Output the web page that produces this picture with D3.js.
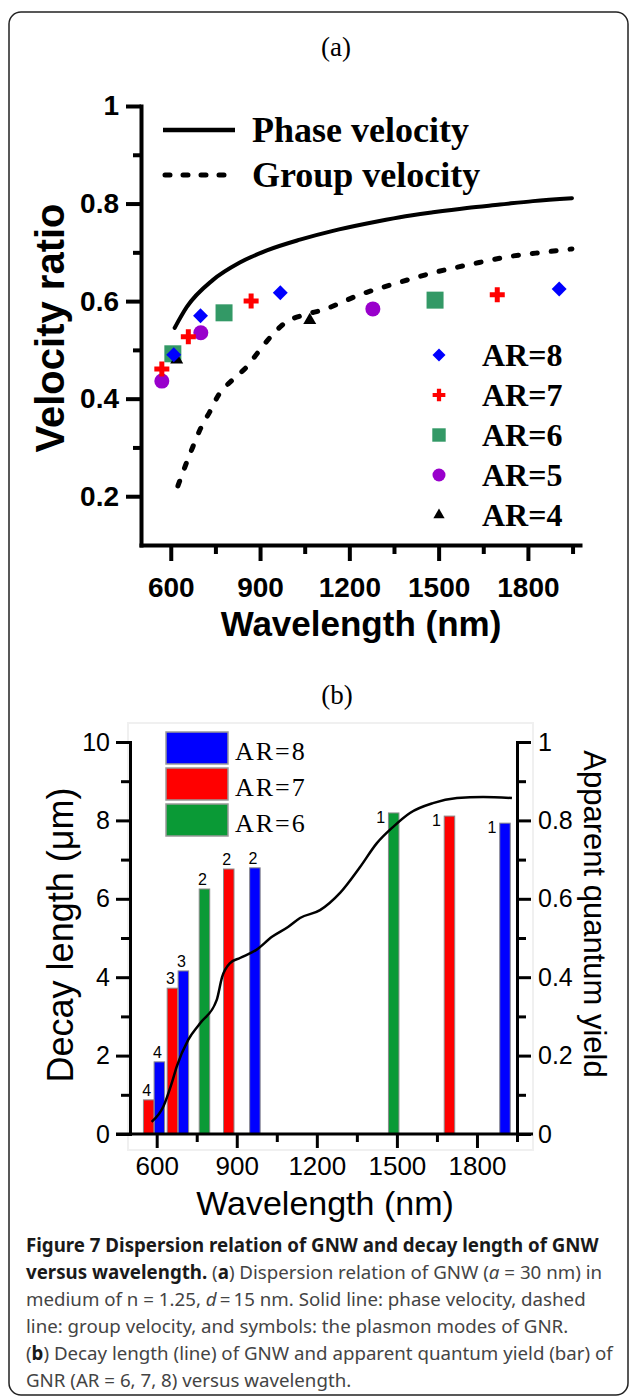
<!DOCTYPE html>
<html>
<head>
<meta charset="utf-8">
<script src="https://cdn.jsdelivr.net/npm/d3@7"></script>
<style>
  body { margin: 0; background: #fff; }
  svg { display: block; }
</style>
</head>
<body>
<div id="fig"></div>
<script>
// ---- panel (a): dispersion of GNW, plasmon modes of GNR ----
var phaseWl = [613, 654, 741, 832, 923, 1034, 1145, 1259, 1370, 1481, 1595, 1706, 1817, 1948];
var phaseV  = [0.545, 0.588, 0.643, 0.679, 0.704, 0.726, 0.744, 0.759, 0.772, 0.782, 0.791, 0.798, 0.805, 0.811];

var groupWl = [624, 650, 674, 701, 731, 761, 808, 855, 892, 933, 983, 1050, 1111, 1235, 1360, 1481, 1612, 1733, 1864, 1948];
var groupV  = [0.221, 0.264, 0.301, 0.340, 0.373, 0.408, 0.439, 0.465, 0.494, 0.525, 0.555, 0.572, 0.582, 0.613, 0.637, 0.658, 0.676, 0.691, 0.701, 0.707];

// plasmon modes per aspect ratio (wavelength nm, velocity ratio, quantum yield, mode number)
var ar8Wl = [610, 700, 968, 1905];
var ar8V  = [0.490, 0.570, 0.617, 0.625];
var ar8Qy = [0.184, 0.416, 0.679, 0.793];
var ar8Mode = [4, 3, 2, 1];

var ar7Wl = [570, 659, 870, 1697];
var ar7V  = [0.461, 0.527, 0.600, 0.613];
var ar7Qy = [0.087, 0.372, 0.676, 0.811];
var ar7Mode = [4, 3, 2, 1];

var ar6Wl = [607, 779, 1488];
var ar6V  = [0.492, 0.576, 0.602];
var ar6Qy = [null, 0.625, 0.819];
var ar6Mode = [3, 2, 1];

var ar5Wl = [570, 701, 1279];
var ar5V  = [0.436, 0.535, 0.584];

var ar4Wl = [620, 1067];
var ar4V  = [0.480, 0.561];

// ---- panel (b): decay length of GNW ----
var decayWl  = [581, 625, 656, 675, 718, 762, 825, 845, 875, 912, 972, 1032, 1092, 1137, 1212, 1287, 1362, 1425, 1485, 1549, 1635, 1725, 1823, 1931];
var decayLen = [0.31, 0.70, 1.29, 1.72, 2.40, 2.82, 3.42, 4.00, 4.36, 4.49, 4.69, 5.03, 5.28, 5.51, 5.71, 6.15, 6.81, 7.42, 7.83, 8.19, 8.44, 8.57, 8.60, 8.57];

// ticks
var wlMajor = [600, 900, 1200, 1500, 1800];
var wlMinor = [750, 1050, 1350, 1650, 1950];
var vMajor = [0.2, 0.4, 0.6, 0.8, 1];
var vMinor = [0.3, 0.5, 0.7, 0.9];
var decMajor = [0, 2, 4, 6, 8, 10];
var decMinor = [1, 3, 5, 7, 9];
var qyMajor = [0, 0.2, 0.4, 0.6, 0.8, 1];
var qyMinor = [0.1, 0.3, 0.5, 0.7, 0.9];

var SANS = '"Liberation Sans", Arial, sans-serif';
var SERIF = '"Liberation Serif", "Times New Roman", serif';

var series = [
  {name: 'AR=8', wl: ar8Wl, v: ar8V, qy: ar8Qy, mode: ar8Mode, sym: d3.symbolSquare, rot: 45, size: 112, lsize: 85, color: '#0000ff', bar: '#0000ff'},
  {name: 'AR=7', wl: ar7Wl, v: ar7V, qy: ar7Qy, mode: ar7Mode, sym: d3.symbolCross, rot: 0, size: 125, lsize: 90, color: '#ff0000', bar: '#ff0000'},
  {name: 'AR=6', wl: ar6Wl, v: ar6V, qy: ar6Qy, mode: ar6Mode, sym: d3.symbolSquare, rot: 0, size: 289, lsize: 180, color: '#339966', bar: '#0a9a36'},
  {name: 'AR=5', wl: ar5Wl, v: ar5V, sym: d3.symbolCircle, rot: 0, size: 177, lsize: 133, color: '#9900cc'},
  {name: 'AR=4', wl: ar4Wl, v: ar4V, sym: d3.symbolTriangle, rot: 0, size: 73, lsize: 55, color: '#000000'}
];

var svg = d3.select('#fig').append('svg').attr('width', 629).attr('height', 1399);

svg.append('rect')
  .attr('x', 9).attr('y', 12).attr('width', 619).attr('height', 1383).attr('rx', 12)
  .attr('fill', 'none').attr('stroke', '#222').attr('stroke-width', 1.5);

function look(g, sw, size, weight) {
  g.attr('font-family', SANS).attr('font-size', size).attr('font-weight', weight);
  g.select('.domain').attr('stroke-width', sw).attr('stroke-linecap', 'square');
  g.selectAll('.tick line').attr('stroke-width', sw);
}
function minor(g, sw) {
  g.select('.domain').remove();
  g.selectAll('.tick line').attr('stroke-width', sw);
}
var fmt = d => (d === 0 || d === 1) ? String(d) : d.toFixed(1);
var plain = d => String(d);

// =============== (a) ===============
svg.append('text').attr('x', 336).attr('y', 56).attr('text-anchor', 'middle')
  .style('font-family', SERIF).style('font-size', '27px').text('(a)');

var xA = d3.scaleLinear().domain([500, 1975]).range([141, 580]);
var yA = d3.scaleLinear().domain([0.1, 1]).range([545, 106]);

svg.append('g').attr('transform', 'translate(0,545)')
  .call(d3.axisBottom(xA).tickValues(wlMajor).tickSize(16).tickPadding(16).tickSizeOuter(0).tickFormat(plain))
  .call(g => look(g, 4, 28, 'bold'));
svg.append('g').attr('transform', 'translate(0,545)')
  .call(d3.axisBottom(xA).tickValues(wlMinor).tickSize(9).tickFormat(''))
  .call(g => minor(g, 4));
svg.append('g').attr('transform', 'translate(141,0)')
  .call(d3.axisLeft(yA).tickValues(vMajor).tickSize(15).tickPadding(7).tickSizeOuter(0).tickFormat(fmt))
  .call(g => look(g, 4, 28, 'bold'));
svg.append('g').attr('transform', 'translate(141,0)')
  .call(d3.axisLeft(yA).tickValues(vMinor).tickSize(8).tickFormat(''))
  .call(g => minor(g, 4));

svg.append('text').attr('transform', 'translate(64,328) rotate(-90)').attr('text-anchor', 'middle')
  .style('font-family', SANS).style('font-size', '40px').style('font-weight', 'bold').text('Velocity ratio');
svg.append('text').attr('x', 361).attr('y', 636).attr('text-anchor', 'middle')
  .style('font-family', SANS).style('font-size', '35px').style('font-weight', 'bold').text('Wavelength (nm)');

var lineA = d3.line().x(d => xA(d[0])).y(d => yA(d[1])).curve(d3.curveMonotoneX);
svg.append('path').datum(d3.zip(phaseWl, phaseV)).attr('d', lineA)
  .attr('fill', 'none').attr('stroke', '#000').attr('stroke-width', 4).attr('stroke-linecap', 'round');
svg.append('path').datum(d3.zip(groupWl, groupV)).attr('d', lineA)
  .attr('fill', 'none').attr('stroke', '#000').attr('stroke-width', 5)
  .attr('stroke-dasharray', '5 14').attr('stroke-linecap', 'round');

// symbols (square first, so the others sit on top)
var drawOrder = [series[2], series[4], series[3], series[1], series[0]];
drawOrder.forEach(function(s) {
  svg.append('g').selectAll('path')
    .data(d3.zip(s.wl, s.v))
    .join('path')
    .attr('transform', d => `translate(${xA(d[0])},${yA(d[1])}) rotate(${s.rot})`)
    .attr('d', d3.symbol(s.sym, s.size))
    .attr('fill', s.color);
});

// legend (a)
svg.append('line').attr('x1', 163).attr('x2', 235).attr('y1', 130).attr('y2', 130)
  .attr('stroke', '#000').attr('stroke-width', 4.5);
svg.append('line').attr('x1', 165).attr('x2', 230).attr('y1', 175).attr('y2', 175)
  .attr('stroke', '#000').attr('stroke-width', 5).attr('stroke-dasharray', '5 13').attr('stroke-linecap', 'round');
svg.append('text').attr('x', 252).attr('y', 142)
  .style('font-family', SERIF).style('font-size', '36px').style('font-weight', 'bold').text('Phase velocity');
svg.append('text').attr('x', 252).attr('y', 187)
  .style('font-family', SERIF).style('font-size', '36px').style('font-weight', 'bold').text('Group velocity');

var legA = svg.append('g').selectAll('g').data(series).join('g')
  .attr('transform', (d, i) => `translate(439,${355 + i * 40})`);
legA.append('path')
  .attr('transform', d => `rotate(${d.rot})`)
  .attr('d', d => d3.symbol(d.sym, d.lsize)())
  .attr('fill', d => d.color);
legA.append('text').attr('x', 43).attr('y', 11)
  .style('font-family', SERIF).style('font-size', '32px').style('font-weight', 'bold')
  .text(d => d.name);

// =============== (b) ===============
svg.append('text').attr('x', 337).attr('y', 704).attr('text-anchor', 'middle')
  .style('font-family', SERIF).style('font-size', '27px').text('(b)');

var xB = d3.scaleLinear().domain([500, 1950]).range([130, 517]);
var yL = d3.scaleLinear().domain([0, 10]).range([1134, 742]);
var yR = d3.scaleLinear().domain([0, 1]).range([1134, 742]);

// faint frame of the original plot image
svg.append('rect').attr('x', 128).attr('y', 723).attr('width', 405).attr('height', 427)
  .attr('fill', 'none').attr('stroke', '#f0f0f0').attr('stroke-width', 2);

var barW = 10.5;
var barSeries = series.slice(0, 3);
barSeries.forEach(function(s) {
  var rows = s.wl.map((w, i) => ({wl: w, qy: s.qy[i], mode: s.mode[i]})).filter(d => d.qy != null);
  var g = svg.append('g');
  g.selectAll('rect').data(rows).join('rect')
    .attr('x', d => xB(d.wl) - barW / 2)
    .attr('y', d => yR(d.qy))
    .attr('width', barW)
    .attr('height', d => yR(0) - yR(d.qy))
    .attr('fill', s.bar).attr('stroke', '#8a8a8a').attr('stroke-width', 1);
  g.selectAll('text').data(rows).join('text')
    .attr('x', d => xB(d.wl) + (d.mode === 1 ? -13 : -2))
    .attr('y', d => yR(d.qy) + (d.mode === 1 ? 10 : -4))
    .attr('text-anchor', 'middle')
    .style('font-family', SANS).style('font-size', '16px')
    .text(d => d.mode);
});

var lineB = d3.line().x(d => xB(d[0])).y(d => yL(d[1])).curve(d3.curveMonotoneX);
svg.append('path').datum(d3.zip(decayWl, decayLen)).attr('d', lineB)
  .attr('fill', 'none').attr('stroke', '#000').attr('stroke-width', 2.5);

var gxB = svg.append('g').attr('transform', 'translate(0,1134)')
  .call(d3.axisBottom(xB).tickValues(wlMajor).tickSize(14).tickPadding(9).tickSizeOuter(0).tickFormat(plain))
  .call(g => look(g, 3, 26, 'normal'));
gxB.select('.domain').remove();
gxB.append('line').attr('x1', xB.range()[0] - 14).attr('x2', xB.range()[1] + 16)
  .attr('stroke', '#000').attr('stroke-width', 3);
svg.append('g').attr('transform', 'translate(0,1134)')
  .call(d3.axisBottom(xB).tickValues(wlMinor).tickSize(8).tickFormat(''))
  .call(g => minor(g, 3));

svg.append('g').attr('transform', 'translate(130,0)')
  .call(d3.axisLeft(yL).tickValues(decMajor).tickSize(14).tickPadding(6).tickSizeOuter(0).tickFormat(plain))
  .call(g => look(g, 3, 25, 'normal'));
svg.append('g').attr('transform', 'translate(130,0)')
  .call(d3.axisLeft(yL).tickValues(decMinor).tickSize(9).tickFormat(''))
  .call(g => minor(g, 3));
svg.append('g').attr('transform', 'translate(517,0)')
  .call(d3.axisRight(yR).tickValues(qyMajor).tickSize(14).tickPadding(7).tickSizeOuter(0).tickFormat(fmt))
  .call(g => look(g, 3, 25, 'normal'));
svg.append('g').attr('transform', 'translate(517,0)')
  .call(d3.axisRight(yR).tickValues(qyMinor).tickSize(9).tickFormat(''))
  .call(g => minor(g, 3));

svg.append('text').attr('transform', 'translate(73,935) rotate(-90)').attr('text-anchor', 'middle')
  .style('font-family', SANS).style('font-size', '36px').text('Decay length (\u03bcm)');
svg.append('text').attr('transform', 'translate(584,914) rotate(90)').attr('text-anchor', 'middle')
  .style('font-family', SANS).style('font-size', '31px').text('Apparent quantum yield');
svg.append('text').attr('x', 325).attr('y', 1215).attr('text-anchor', 'middle')
  .style('font-family', SANS).style('font-size', '34px').text('Wavelength (nm)');

// legend (b)
var legB = svg.append('g').selectAll('g').data(barSeries).join('g')
  .attr('transform', (d, i) => `translate(166,${732 + i * 36})`);
legB.append('rect').attr('width', 62).attr('height', 32)
  .attr('fill', d => d.bar).attr('stroke', '#999').attr('stroke-width', 1.5);
legB.append('text').attr('x', 69).attr('y', 28)
  .style('font-family', SERIF).style('font-size', '26px').style('letter-spacing', '2px')
  .text(d => d.name);

// =============== caption ===============
var capLines = [
  [['b', 'Figure 7 Dispersion relation of GNW and decay length of GNW']],
  [['b', 'versus wavelength.'], ['n', ' ('], ['b', 'a'], ['n', ') Dispersion relation of GNW ('], ['i', 'a'], ['n', ' = 30 nm) in']],
  [['n', 'medium of n = 1.25, '], ['i', 'd'], ['n', '\u2009=\u200915 nm. Solid line: phase velocity, dashed']],
  [['n', 'line: group velocity, and symbols: the plasmon modes of GNR.']],
  [['n', '('], ['b', 'b'], ['n', ') Decay length (line) of GNW and apparent quantum yield (bar) of']],
  [['n', 'GNR (AR = 6, 7, 8) versus wavelength.']]
];

// the caption face is condensed: squeeze the whole block horizontally to the page width
var cap = svg.append('g').style('font-family', '"Noto Sans", "Open Sans", sans-serif').style('font-size', '19px');
var capTexts = capLines.map(function(parts, i) {
  var t = cap.append('text').attr('x', 0).attr('y', 1252 + i * 27);
  parts.forEach(function(p) {
    t.append('tspan')
      .attr('fill', p[0] === 'b' ? '#1a1a1a' : '#444')
      .style('font-weight', p[0] === 'b' ? 'bold' : 'normal')
      .style('font-style', p[0] === 'i' ? 'italic' : 'normal')
      .text(p[1]);
  });
  return t;
});
var w0 = capTexts[0].node().getComputedTextLength();
var w4 = capTexts[4].node().getComputedTextLength();
var sx = Math.min((610 - 26) / w0, (613 - 26) / w4, 1);
cap.attr('transform', `translate(26,0) scale(${sx},1)`);
</script>
</body>
</html>
